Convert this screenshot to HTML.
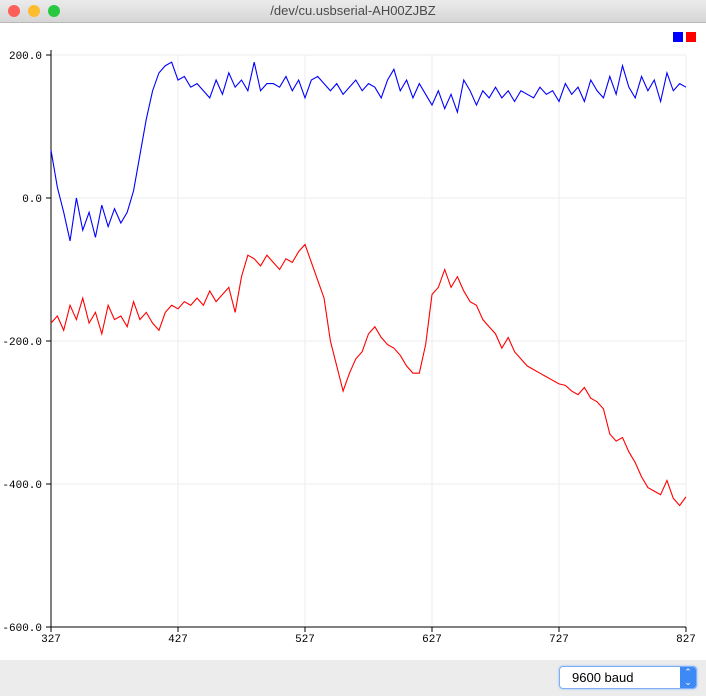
<!DOCTYPE html>
<html><head><meta charset="utf-8"><style>
body{margin:0;width:706px;height:696px;overflow:hidden;background:#fff;font-family:"Liberation Sans",sans-serif}
#title{position:absolute;left:0;top:0;width:706px;height:22px;background:linear-gradient(#ebebeb,#d6d6d6);border-bottom:1px solid #b8b8b8;text-align:center;font-size:13px;line-height:22px;color:#4a4a4a}
.dot{position:absolute;top:5px;width:12px;height:12px;border-radius:50%}
#bottom{position:absolute;left:0;top:660px;width:706px;height:36px;background:#ececec}
#baud{position:absolute;left:559px;top:6px;width:136px;height:21px;border:1px solid #7fb0f5;border-radius:4px;background:#fff;font-size:13px;line-height:21px;box-shadow:0 0 2px #8ab8ff}
#baud span{position:absolute;left:12px}
#arrow{position:absolute;right:0;top:0;width:16px;height:21px;background:#3d8af7;border-radius:0 3px 3px 0;color:#fff;font-size:9px;text-align:center;line-height:10px}
</style></head><body>
<div id="title">/dev/cu.usbserial-AH00ZJBZ</div>
<div class="dot" style="left:8px;background:#fc5f57"></div>
<div class="dot" style="left:28px;background:#fdbc2e"></div>
<div class="dot" style="left:48px;background:#28c840"></div>
<svg id="chart" width="706" height="696" style="position:absolute;left:0;top:0"></svg>
<div id="bottom"><div id="baud"><span>9600 baud</span><div id="arrow">⌃<br>⌄</div></div></div>
<script>
const xTicks=[327,427,527,627,727,827];
const yTicks=[200,0,-200,-400,-600];
const blueValues=[67,15,-20,-60,0,-45,-20,-55,-10,-40,-15,-35,-20,10,60,110,150,175,185,190,165,
170,155,160,150,140,165,145,175,155,165,150,190,150,160,160,155,170,150,165,140,
165,170,160,150,160,145,155,165,150,160,155,140,165,180,150,165,140,160,145,130,
150,125,145,120,165,150,130,150,140,155,140,150,135,150,145,140,155,145,150,135,
160,145,155,135,165,150,140,170,145,185,155,140,170,150,165,135,175,150,160,155];
const redValues=[-175,-165,-185,-150,-170,-140,-175,-160,-190,-150,-170,-165,-180,-145,-170,-160,
-175,-185,-160,-150,-155,-145,-150,-140,-150,-130,-145,-135,-125,-160,-110,-80,
-85,-95,-80,-90,-100,-85,-90,-75,-65,-90,-115,-140,-200,-235,-270,-245,-225,-215,
-190,-180,-195,-205,-210,-220,-235,-245,-245,-205,-135,-125,-100,-125,-110,-130,
-145,-150,-170,-180,-190,-210,-195,-215,-225,-235,-240,-245,-250,-255,-260,-262,
-270,-275,-265,-280,-285,-295,-330,-340,-335,-355,-370,-390,-405,-410,-415,-395,-420,-430,-418];
const X0=51,X1=686,Y0=55,Y1=627;
const xs=v=>X0+(v-327)/500*(X1-X0);
const ys=v=>Y0+(200-v)/800*(Y1-Y0);
const svg=document.getElementById('chart');
const NS='http://www.w3.org/2000/svg';
function mk(t,a){const e=document.createElementNS(NS,t);for(const k in a)e.setAttribute(k,a[k]);svg.appendChild(e);return e;}
xTicks.forEach(t=>{
 if(t>327){const g=mk('line',{x1:xs(t),x2:xs(t),y1:Y0,y2:Y1,stroke:'#eeeeee'});
 
 }
 const tk=mk('line',{x1:xs(t),x2:xs(t),y1:Y1,y2:Y1+5,stroke:'#000'});
 
 
 const l=mk('text',{x:xs(t),y:Y1+15,'text-anchor':'middle','font-size':'11','font-family':'Liberation Mono, monospace'});
 l.textContent=t;
 
 
});
yTicks.forEach(t=>{
 if(t>-600){const g=mk('line',{x1:X0,x2:X1,y1:ys(t),y2:ys(t),stroke:'#eeeeee'});
 
 }
 const tk=mk('line',{x1:X0-5,x2:X0,y1:ys(t),y2:ys(t),stroke:'#000'});
 
 
 const l=mk('text',{x:X0-9,y:ys(t)+4,'text-anchor':'end','font-size':'11','font-family':'Liberation Mono, monospace'});
 l.textContent=t.toFixed(1);
 
 
});
const ya=mk('line',{x1:X0,x2:X0,y1:Y0-5,y2:Y1,stroke:'#000'});


const xa=mk('line',{x1:X0,x2:X1,y1:Y1,y2:Y1,stroke:'#000'});


function series(vals,color,name){
 const step=500/(vals.length-1);
 const p=mk('polyline',{points:vals.map((v,i)=>xs(327+i*step)+','+ys(v)).join(' '),fill:'none',stroke:color,'stroke-width':'1.1'});
 
 
}
series(blueValues,'#0000ff','series-1-line');
series(redValues,'#ff0000','series-2-line');
const lb=mk('rect',{x:673,y:32,width:10,height:10,fill:'#0000ff'});


const lr=mk('rect',{x:686,y:32,width:10,height:10,fill:'#ff0000'});


</script>
</body></html>
